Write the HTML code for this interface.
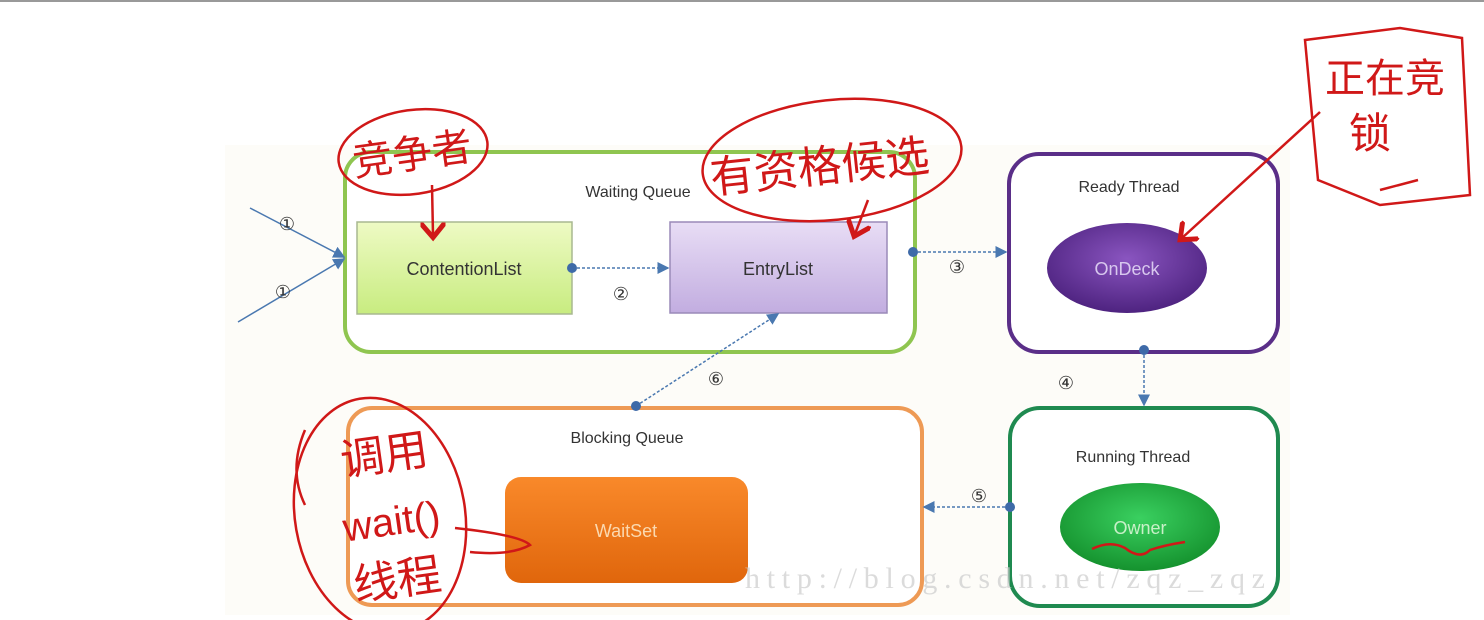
<!DOCTYPE html>
<html><head><meta charset="utf-8"><style>
html,body{margin:0;padding:0;background:#fff;width:1484px;height:620px;overflow:hidden}
svg{display:block}
.t{font-family:"Liberation Sans","DejaVu Sans",sans-serif;fill:#333}
.h{font-family:"Liberation Sans","Noto Sans CJK SC",sans-serif;fill:#d01818}
</style></head><body>
<svg width="1484" height="620" viewBox="0 0 1484 620">
<defs>
<linearGradient id="gG" x1="0" y1="0" x2="0" y2="1"><stop offset="0" stop-color="#eefac4"/><stop offset="1" stop-color="#c8ec80"/></linearGradient>
<linearGradient id="gP" x1="0" y1="0" x2="0" y2="1"><stop offset="0" stop-color="#e8ddf5"/><stop offset="1" stop-color="#c2ade0"/></linearGradient>
<linearGradient id="gO" x1="0" y1="0" x2="0" y2="1"><stop offset="0" stop-color="#f9892a"/><stop offset="1" stop-color="#e0660c"/></linearGradient>
<radialGradient id="gV" cx="0.5" cy="0.4" r="0.6"><stop offset="0" stop-color="#8a55c0"/><stop offset="1" stop-color="#4e2380"/></radialGradient>
<radialGradient id="gN" cx="0.5" cy="0.4" r="0.6"><stop offset="0" stop-color="#3ad060"/><stop offset="1" stop-color="#15922e"/></radialGradient>
<marker id="ar" markerWidth="8" markerHeight="8" refX="7" refY="4" orient="auto"><path d="M0,0 L8,4 L0,8z" fill="#4a78b0"/></marker>
<marker id="rr" markerWidth="10" markerHeight="10" refX="5" refY="5" orient="auto"><path d="M0,0 L6,5 L0,10" fill="none" stroke="#d01818" stroke-width="2"/></marker>
</defs>
<rect x="0" y="0" width="1484" height="2" fill="#999"/>
<rect x="225" y="145" width="1065" height="470" fill="#fdfcf8"/>

<rect x="345" y="152" width="570" height="200" rx="26" fill="#fff" stroke="#8fc550" stroke-width="4"/>
<text class="t" x="638" y="197" font-size="16" text-anchor="middle">Waiting Queue</text>
<rect x="357" y="222" width="215" height="92" fill="url(#gG)" stroke="#a8b890" stroke-width="1.5"/>
<text class="t" x="464" y="275" font-size="18" text-anchor="middle">ContentionList</text>
<rect x="670" y="222" width="217" height="91" fill="url(#gP)" stroke="#9a8ab8" stroke-width="1.5"/>
<text class="t" x="778" y="275" font-size="18" text-anchor="middle">EntryList</text>

<rect x="1009" y="154" width="269" height="198" rx="30" fill="#fff" stroke="#5a2e88" stroke-width="4"/>
<text class="t" x="1129" y="192" font-size="16" text-anchor="middle">Ready Thread</text>
<ellipse cx="1127" cy="268" rx="80" ry="45" fill="url(#gV)"/>
<text x="1127" y="275" font-size="18" text-anchor="middle" font-family="Liberation Sans,sans-serif" fill="#d8c8ee">OnDeck</text>

<rect x="1010" y="408" width="268" height="198" rx="30" fill="#fff" stroke="#1f8a50" stroke-width="4"/>
<text class="t" x="1133" y="462" font-size="16" text-anchor="middle">Running Thread</text>
<ellipse cx="1140" cy="527" rx="80" ry="44" fill="url(#gN)"/>
<text x="1140" y="534" font-size="18" text-anchor="middle" font-family="Liberation Sans,sans-serif" fill="#c8f0c8">Owner</text>

<rect x="348" y="408" width="574" height="197" rx="24" fill="#fff" stroke="#ee9a55" stroke-width="4"/>
<text class="t" x="627" y="443" font-size="16" text-anchor="middle">Blocking Queue</text>
<rect x="505" y="477" width="243" height="106" rx="16" fill="url(#gO)"/>
<text x="626" y="537" font-size="18" text-anchor="middle" font-family="Liberation Sans,sans-serif" fill="#fbd9b0">WaitSet</text>

<text x="745" y="588" font-size="30" textLength="520" lengthAdjust="spacing" font-family="Liberation Serif,serif" fill="#cccccc" opacity="0.7">http://blog.csdn.net/zqz_zqz</text>

<g stroke="#4a78b0" stroke-width="1.5" fill="none">
<line x1="250" y1="208" x2="344" y2="257" marker-end="url(#ar)"/>
<line x1="238" y1="322" x2="344" y2="259" marker-end="url(#ar)"/>
<line x1="572" y1="268" x2="668" y2="268" stroke-dasharray="3,2" marker-end="url(#ar)"/>
<line x1="913" y1="252" x2="1006" y2="252" stroke-dasharray="3,2" marker-end="url(#ar)"/>
<line x1="1144" y1="350" x2="1144" y2="405" stroke-dasharray="3,2" marker-end="url(#ar)"/>
<line x1="1010" y1="507" x2="924" y2="507" stroke-dasharray="3,2" marker-end="url(#ar)"/>
<line x1="636" y1="406" x2="778" y2="314" stroke-dasharray="3,2" marker-end="url(#ar)"/>
</g>
<g fill="#3e6aa8"><circle cx="572" cy="268" r="5"/><circle cx="913" cy="252" r="5"/><circle cx="1144" cy="350" r="5"/><circle cx="1010" cy="507" r="5"/><circle cx="636" cy="406" r="5"/></g>
<g class="t" font-size="18" text-anchor="middle" font-family="DejaVu Sans,sans-serif">
<text x="287" y="230">①</text><text x="283" y="298">①</text><text x="621" y="300">②</text>
<text x="957" y="273">③</text><text x="1066" y="389">④</text><text x="979" y="502">⑤</text><text x="716" y="385">⑥</text>
</g>

<g stroke="#d01818" stroke-width="2.5" fill="none">
<ellipse cx="413" cy="152" rx="75" ry="42" transform="rotate(-8 413 152)"/>
<path d="M432,185 L433,235" marker-end="url(#rr)"/>
<ellipse cx="832" cy="160" rx="130" ry="60" transform="rotate(-6 832 160)"/>
<path d="M868,200 L855,234" marker-end="url(#rr)"/>
<path d="M1305,40 L1400,28 L1462,38 L1470,195 L1380,205 L1318,180 L1305,40z"/>
<path d="M1418,180 L1380,190"/>
<path d="M1320,112 L1182,238" marker-end="url(#rr)"/>
<ellipse cx="380" cy="515" rx="85" ry="118" transform="rotate(-10 380 515)"/>
<path d="M305,430 Q288,470 305,505"/>
<path d="M455,528 Q520,535 530,545 Q510,556 470,552"/>
<path d="M1092,549 Q1110,540 1125,548 Q1140,560 1150,550 Q1165,545 1185,542"/>
</g>
<text class="h" x="413" y="168" font-size="40" text-anchor="middle" transform="rotate(-8 413 160)">竞争者</text>
<text class="h" x="820" y="182" font-size="44" text-anchor="middle" transform="rotate(-6 820 170)">有资格候选</text>
<text class="h" x="1385" y="92" font-size="40" text-anchor="middle">正在竞</text>
<text class="h" x="1370" y="148" font-size="42" text-anchor="middle">锁</text>
<text class="h" x="385" y="470" font-size="44" text-anchor="middle" transform="rotate(-8 385 460)">调用</text>
<text class="h" x="392" y="535" font-size="40" text-anchor="middle" transform="rotate(-8 392 525)">wait()</text>
<text class="h" x="398" y="595" font-size="44" text-anchor="middle" transform="rotate(-8 398 585)">线程</text>
</svg>
</body></html>
